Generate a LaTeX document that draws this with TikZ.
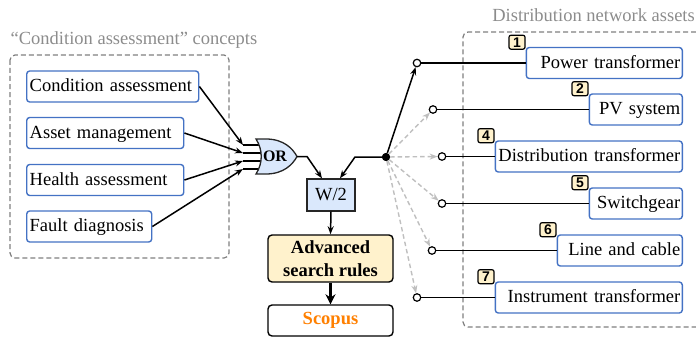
\documentclass[tikz,border=0pt]{standalone}
\usepackage{fontspec}
\setmainfont{Liberation Serif}
\newfontfamily\badgefont{Liberation Sans}
\usetikzlibrary{arrows.meta}
\definecolor{boxblue}{HTML}{4472C4}
\definecolor{framegray}{HTML}{7F7F7F}
\definecolor{titlegray}{HTML}{8C8C8C}
\definecolor{lgray}{HTML}{BFBFBF}
\definecolor{lyellow}{HTML}{FFF2CC}
\definecolor{lblue}{HTML}{DAE8FC}
\definecolor{scorange}{HTML}{FF8000}
\newcommand{\mainsz}{\fontsize{18.5}{22}\selectfont}
\tikzset{
  conn/.style={line width=1.5pt, -{Stealth[length=8pt,width=6pt]}},
  plainline/.style={line width=1.5pt},
  gconn/.style={line width=1.4pt, draw=lgray, dash pattern=on 4.5pt off 3pt, -{Stealth[length=8pt,width=6pt]}},
  frame/.style={draw=framegray, line width=1.2pt, dash pattern=on 5pt off 3pt, rounded corners=5pt},
  lbox/.style={draw=boxblue, line width=1.4pt, rounded corners=3pt, fill=white, minimum height=31pt, inner xsep=3pt, inner ysep=0pt, text height=13.5pt, text depth=3.5pt, font=\mainsz, align=left, anchor=west},
  rbox/.style={draw=boxblue, line width=1.4pt, rounded corners=3pt, fill=white, minimum height=31pt, inner xsep=2pt, inner ysep=0pt, text height=13.5pt, text depth=3.5pt, font=\mainsz, align=right, anchor=east},
  badge/.style={draw, line width=1.2pt, fill=lyellow, rounded corners=2pt, minimum width=16pt, minimum height=14pt, inner sep=0pt, font=\badgefont\bfseries\fontsize{14}{14}\selectfont, anchor=south east},
  ocirc/.style={circle, draw, line width=1.2pt, fill=white, minimum size=7.5pt, inner sep=0pt},
  dotn/.style={circle, fill=black, minimum size=8pt, inner sep=0pt},
  gate/.style={draw=black!85, line width=1.3pt, fill=lblue},
  title/.style={text=titlegray, font=\mainsz, inner sep=0pt}
}
\begin{document}
\begin{tikzpicture}[x=1pt,y=-1pt]
\useasboundingbox (0,0) rectangle (696,337);

% frames and titles
\draw[frame] (10,55) rectangle (229,258);
\draw[frame] (696,32) -- (463,32) -- (463,327) -- (696,327);
\node[title, anchor=base] (tl) at (134,45) {“Condition assessment” concepts};
\node[title, anchor=base east] (tr) at (695,21.5) {Distribution network assets};

% left concept boxes
\node[lbox, text width=166pt] (ca) at (26,86.5) {Condition assessment};
\node[lbox, text width=151pt] (am) at (26,133) {Asset management};
\node[lbox, text width=151pt] (ha) at (26,180) {Health assessment};
\node[lbox, text width=119pt] (fd) at (26,226.5) {Fault diagnosis};

% OR gate inputs
\coordinate (in1) at (243,145);
\coordinate (in2) at (243,153);
\coordinate (in3) at (243,161);
\coordinate (in4) at (243,169);
\coordinate (ie1) at (262,145);
\coordinate (ie2) at (262,153);
\coordinate (ie3) at (262,161);
\coordinate (ie4) at (262,169);
\draw[plainline] (in1) -- (ie1);
\draw[plainline] (in2) -- (ie2);
\draw[plainline] (in3) -- (ie3);
\draw[plainline] (in4) -- (ie4);
\draw[conn] (ca.east) -- (in1);
\draw[conn] (am.east) -- (in2);
\draw[conn] (ha.east) -- (in3);
\draw[conn] (fd.east) -- (in4);

% OR gate
\draw[gate] (256,139) -- (266,139) .. controls (284,139) and (293,149) .. (297,156.5)
  .. controls (293,164) and (284,174) .. (266,174) -- (256,174)
  .. controls (263,163) and (263,150) .. (256,139) -- cycle;
\node[font=\bfseries\fontsize{16}{16}\selectfont, inner sep=0pt] (orl) at (275,156.5) {OR};
\coordinate (orout) at (297,156.5);
\coordinate (ob) at (307,156.5);

% W/2, search rules, Scopus
\node[draw=black!85, line width=1.3pt, fill=lblue, minimum width=48pt, minimum height=32pt, inner sep=0pt, font=\mainsz] (w2) at (331,195) {W/2};
\node[draw, line width=1.4pt, fill=lyellow, rounded corners=4pt, minimum width=125pt, minimum height=47pt, inner sep=0pt, align=center, font=\bfseries\fontsize{18.5}{22.5}\selectfont] (adv) at (330.5,258.5) {Advanced\\search rules};
\node[draw, line width=1.4pt, fill=white, rounded corners=4pt, minimum width=125pt, minimum height=31pt, inner sep=0pt, text=scorange, font=\bfseries\mainsz] (sc) at (330.5,320.5) {Scopus};

\draw[conn] (orout) -- (ob) -- ([xshift=-9pt]w2.north);
\draw[conn] (w2.south) -- (adv.north);
\draw[line width=3pt, -{Stealth[length=10pt,width=10pt]}] (adv.south) -- (sc.north);

% junction
\node[dotn] (dot) at (386,157) {};
\coordinate (jb) at (355,157);
\draw[conn] (dot.center) -- (jb) -- ([xshift=9pt]w2.north);

% right asset boxes
\node[rbox, text width=152pt] (b1) at (683,63) {Power transformer};
\node[rbox, text width=89pt] (b2) at (683,109.5) {PV system};
\node[rbox, text width=183pt] (b4) at (683,156.5) {Distribution transformer};
\node[rbox, text width=89pt] (b5) at (683,203.5) {Switchgear};
\node[rbox, text width=121pt] (b6) at (683,250.5) {Line and cable};
\node[rbox, text width=183pt] (b7) at (683,297.5) {Instrument transformer};

\node[badge] (n1) at ([yshift=-3pt]b1.north west) {1};
\node[badge] (n2) at ([yshift=-3pt]b2.north west) {2};
\node[badge] (n4) at ([yshift=-3pt]b4.north west) {4};
\node[badge] (n5) at ([yshift=-3pt]b5.north west) {5};
\node[badge] (n6) at ([yshift=-3pt]b6.north west) {6};
\node[badge] (n7) at ([yshift=-3pt]b7.north west) {7};

% selector circles
\node[ocirc] (c1) at (417,63) {};
\node[ocirc] (c2) at (433,109.5) {};
\node[ocirc] (c4) at (442,156.5) {};
\node[ocirc] (c5) at (442,203.5) {};
\node[ocirc] (c6) at (432,250.5) {};
\node[ocirc] (c7) at (417,297.5) {};

\draw[plainline] (c1) -- (c1 -| b1.west);
\draw[plainline] (c2) -- (c2 -| b2.west);
\draw[plainline] (c4) -- (c4 -| b4.west);
\draw[plainline] (c5) -- (c5 -| b5.west);
\draw[plainline] (c6) -- (c6 -| b6.west);
\draw[plainline] (c7) -- (c7 -| b7.west);

\draw[gconn] (dot) -- (c2);
\draw[gconn] (dot) -- (c4);
\draw[gconn] (dot) -- (c5);
\draw[gconn] (dot) -- (c6);
\draw[gconn] (dot) -- (c7);
\draw[conn] (dot) -- (c1);
\node[dotn] (dot2) at (dot) {};
\end{tikzpicture}
\end{document}
